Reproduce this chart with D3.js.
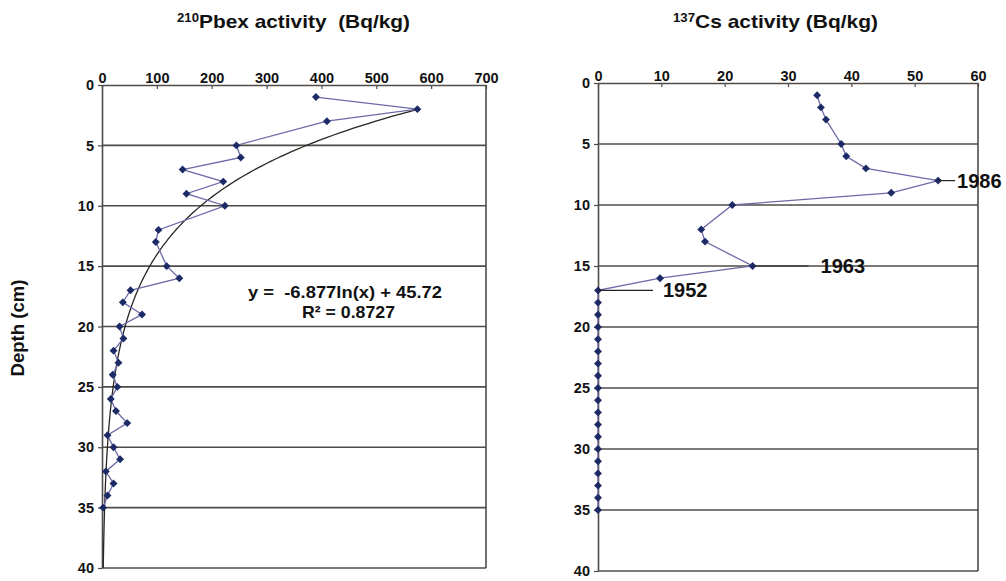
<!DOCTYPE html>
<html>
<head>
<meta charset="utf-8">
<script src="https://cdn.jsdelivr.net/npm/d3@7"></script>
<style>
  body { margin: 0; background: #fff; }
  text { font-family: "Liberation Sans", Arial, sans-serif; font-weight: bold; fill: #111; }
</style>
</head>
<body>
<div id="chart"></div>
<script>
// Sample depths (cm), shared by both profiles
const depths = [1, 2, 3, 5, 6, 7, 8, 9, 10, 12, 13, 15, 16, 17, 18, 19, 20, 21, 22, 23,
                24, 25, 26, 27, 28, 29, 30, 31, 32, 33, 34, 35];

// 210Pb excess activity (Bq/kg)
const pbValues = [390, 575, 410, 245, 253, 147, 221, 154, 224, 103, 98, 118, 141, 52, 38, 73,
                  32, 39, 21, 30, 19.5, 28, 16, 25.5, 46, 10, 21, 33, 7, 21, 10, 2];

// 137Cs activity (Bq/kg)
const csValues = [34.6, 35.2, 36.0, 38.4, 39.2, 42.3, 53.7, 46.3, 21.2, 16.3, 16.9, 24.4, 9.8,
                  0, 0, 0, 0, 0, 0, 0, 0, 0, 0, 0, 0, 0, 0, 0, 0, 0, 0, 0];

// Logarithmic trend line for 210Pb: depth = a*ln(x) + b
const trendA = -6.877, trendB = 45.72;
const trendText = ["y =  -6.877ln(x) + 45.72", "R\u00b2 = 0.8727"];

// Dated horizons on the 137Cs profile
const csLabels = ["1986", "1963", "1952"];
const csLabelDepths = [8, 15, 17];

const xTicksPb = [0, 100, 200, 300, 400, 500, 600, 700];
const xTicksCs = [0, 10, 20, 30, 40, 50, 60];
const depthTicks = [0, 5, 10, 15, 20, 25, 30, 35, 40];

const width = 1006, height = 581;
const svg = d3.select("#chart").append("svg")
    .attr("width", width)
    .attr("height", height);

const gridColor = "#4f4b48";
const lineColor = "#6e6aa8";
const markColor = "#1c2a66";

function drawPanel(opts) {
    const x = d3.scaleLinear().domain(opts.xDomain).range([opts.left, opts.right]);
    const y = d3.scaleLinear().domain([0, 40]).range([opts.top, opts.bottom]);

    const g = svg.append("g");

    // horizontal grid lines
    g.selectAll(".grid")
        .data(depthTicks.filter(d => d > 0))
        .enter().append("line")
        .attr("x1", opts.left).attr("x2", opts.right)
        .attr("y1", d => y(d)).attr("y2", d => y(d))
        .attr("stroke", gridColor)
        .attr("stroke-width", 1.6);

    // right border
    g.append("line")
        .attr("x1", opts.right).attr("x2", opts.right)
        .attr("y1", opts.top).attr("y2", opts.bottom)
        .attr("stroke", gridColor).attr("stroke-width", 1.6);

    // top axis
    const xAxis = g.append("g")
        .attr("transform", `translate(0,${opts.top})`)
        .call(d3.axisTop(x).tickValues(opts.xTicks).tickSize(-4).tickSizeOuter(0).tickPadding(2));
    xAxis.select(".domain").attr("stroke", gridColor).attr("stroke-width", 1.6);
    xAxis.selectAll(".tick line").attr("stroke", gridColor).attr("stroke-width", 1.2);
    xAxis.selectAll("text").attr("font-size", 14.5).attr("font-family", null).style("fill", "#111");

    // left axis
    const yAxis = g.append("g")
        .attr("transform", `translate(${opts.left},0)`)
        .call(d3.axisLeft(y).tickValues(depthTicks).tickSize(4).tickSizeOuter(0).tickPadding(4));
    yAxis.select(".domain").attr("stroke", gridColor).attr("stroke-width", 1.6);
    yAxis.selectAll(".tick line").attr("stroke", gridColor).attr("stroke-width", 1.2);
    yAxis.selectAll("text").attr("font-size", 14.5).attr("font-family", null).style("fill", "#111");

    // title with superscript isotope
    const title = g.append("text")
        .attr("x", opts.titleX).attr("y", 28)
        .attr("text-anchor", "middle")
        .attr("font-size", 19)
        .attr("xml:space", "preserve")
        .attr("textLength", opts.titleLen)
        .attr("lengthAdjust", "spacingAndGlyphs");
    title.append("tspan").attr("font-size", 12).attr("dy", -6).text(opts.isotope);
    title.append("tspan").attr("dy", 6).text(opts.title);

    return { g, x, y };
}

// ---- 210Pb panel ----
const pb = drawPanel({
    left: 102, right: 486, top: 85, bottom: 568,
    xDomain: [0, 700], xTicks: xTicksPb,
    titleX: 293.5, titleLen: 233, isotope: "210", title: "Pbex activity  (Bq/kg)"
});

// trend curve, evaluated from the fitted equation over the data range
const xmin = d3.min(pbValues), xmax = d3.max(pbValues);
const trendX = d3.range(0, 201).map(i => xmin * Math.pow(xmax / xmin, i / 200));
pb.g.append("path")
    .datum(trendX.filter(v => trendA * Math.log(v) + trendB <= 40))
    .attr("fill", "none")
    .attr("stroke", "#2a2622")
    .attr("stroke-width", 1.3)
    .attr("d", d3.line().x(v => pb.x(v)).y(v => pb.y(trendA * Math.log(v) + trendB)));

const pbData = depths.map((d, i) => ({ depth: d, value: pbValues[i] }));
pb.g.append("path")
    .datum(pbData)
    .attr("fill", "none")
    .attr("stroke", lineColor)
    .attr("stroke-width", 1.3)
    .attr("d", d3.line().x(d => pb.x(d.value)).y(d => pb.y(d.depth)));

const diamond = d3.symbol().type(d3.symbolDiamond2).size(40);
pb.g.selectAll(".pt")
    .data(pbData)
    .enter().append("path")
    .attr("transform", d => `translate(${pb.x(d.value)},${pb.y(d.depth)})`)
    .attr("d", diamond)
    .attr("fill", markColor);

pb.g.selectAll(".eq")
    .data(trendText)
    .enter().append("text")
    .attr("x", (d, i) => i === 0 ? 248 : 302)
    .attr("y", (d, i) => 298 + i * 20)
    .attr("font-size", 17)
    .attr("xml:space", "preserve")
    .attr("textLength", (d, i) => i === 0 ? 194 : 93)
    .attr("lengthAdjust", "spacingAndGlyphs")
    .text(d => d);

// depth label
svg.append("text")
    .attr("transform", "translate(24,328) rotate(-90)")
    .attr("text-anchor", "middle")
    .attr("font-size", 18)
    .attr("textLength", 97)
    .attr("lengthAdjust", "spacingAndGlyphs")
    .text("Depth (cm)");

// ---- 137Cs panel ----
const cs = drawPanel({
    left: 598, right: 978, top: 83, bottom: 571,
    xDomain: [0, 60], xTicks: xTicksCs,
    titleX: 775.5, titleLen: 205, isotope: "137", title: "Cs activity (Bq/kg)"
});

const csData = depths.map((d, i) => ({ depth: d, value: csValues[i] }));
cs.g.append("path")
    .datum(csData)
    .attr("fill", "none")
    .attr("stroke", lineColor)
    .attr("stroke-width", 1.3)
    .attr("d", d3.line().x(d => cs.x(d.value)).y(d => cs.y(d.depth)));

cs.g.selectAll(".pt")
    .data(csData)
    .enter().append("path")
    .attr("transform", d => `translate(${cs.x(d.value)},${cs.y(d.depth)})`)
    .attr("d", diamond)
    .attr("fill", markColor);

// horizon labels with leader lines
const leaderLen = [17, 56, 55];
const labelGap = [2, 12, 10];
csLabels.forEach((lab, i) => {
    const depth = csLabelDepths[i];
    const px = cs.x(csValues[depths.indexOf(depth)]);
    const py = cs.y(depth);
    cs.g.append("line")
        .attr("x1", px).attr("x2", px + leaderLen[i])
        .attr("y1", py).attr("y2", py)
        .attr("stroke", "#222")
        .attr("stroke-width", 1.2);
    cs.g.append("text")
        .attr("x", px + leaderLen[i] + labelGap[i])
        .attr("y", py + 7)
        .attr("font-size", 20)
        .text(lab);
});
</script>
</body>
</html>
